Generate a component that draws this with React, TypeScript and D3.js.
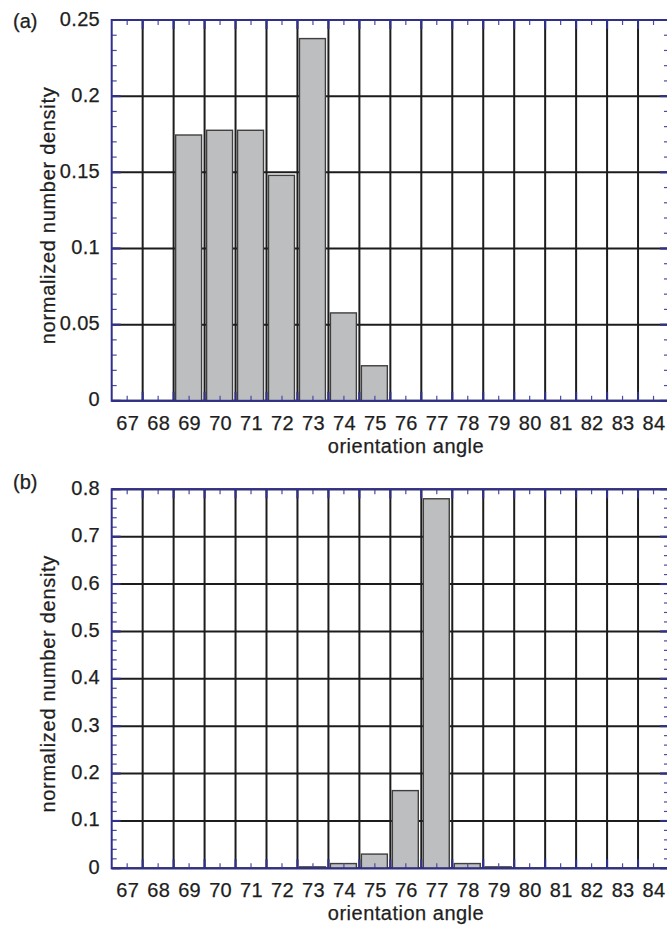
import React from "react";
import * as d3 from "d3";

const angles = [67, 68, 69, 70, 71, 72, 73, 74, 75, 76, 77, 78, 79, 80, 81, 82, 83, 84];
const densityA = [0, 0, 0.1745, 0.1776, 0.1776, 0.148, 0.2378, 0.0577, 0.023, 0, 0, 0, 0, 0, 0, 0, 0, 0];
const densityB = [0, 0, 0, 0, 0, 0, 0.003, 0.01, 0.03, 0.164, 0.78, 0.01, 0.003, 0, 0, 0, 0, 0];
const yTicksA = [0, 0.05, 0.1, 0.15, 0.2, 0.25];
const yTickLabelsA = ["0", "0.05", "0.1", "0.15", "0.2", "0.25"];
const yTicksB = [0, 0.1, 0.2, 0.3, 0.4, 0.5, 0.6, 0.7, 0.8];
const yTickLabelsB = ["0", "0.1", "0.2", "0.3", "0.4", "0.5", "0.6", "0.7", "0.8"];
const panelLabels = ["(a)", "(b)"];
const xTitle = "orientation angle";
const yTitle = "normalized number density";

const FONT = "'Liberation Sans', Arial, Helvetica, sans-serif";
const AXIS = "#2f2f8c";
const TICK = "#4b4ba3";
const GRID = "#1c1c1c";
const TEXT = "#1e1e1e";

type PanelProps = {
  top: number;
  bottom: number;
  yMax: number;
  yTicks: number[];
  yLabels: string[];
  minorStep: number;
  values: number[];
  tag: string;
  tagY: number;
};

function Panel({ top, bottom, yMax, yTicks, yLabels, minorStep, values, tag, tagY }: PanelProps) {
  const left = 111.7;
  const right = 669;
  const x = d3.scaleLinear().domain([66.5, 84.5]).range([left, right]);
  const y = d3.scaleLinear().domain([0, yMax]).range([bottom, top]);
  const step = x(1) - x(0);
  const boundaries = d3.range(67.5, 84.5, 1);
  const nMinor = Math.round(yMax / minorStep);
  const minorY = d3.range(0, nMinor + 1).map((i) => i * minorStep);
  const fs = 20;
  const textStyle = { fontFamily: FONT, fontSize: fs, fill: TEXT, stroke: TEXT, strokeWidth: 0.25 } as const;
  return (
    <g>
      {yTicks.map((t, i) => (
        <line key={"hg" + i} x1={left} x2={right} y1={y(t)} y2={y(t)} stroke={GRID} strokeWidth={2} />
      ))}
      {boundaries.map((b, i) => (
        <line key={"vg" + i} x1={x(b)} x2={x(b)} y1={top} y2={bottom} stroke={GRID} strokeWidth={2} />
      ))}
      {angles.map((a, i) =>
        values[i] > 0 ? (
          <rect
            key={"bar" + i}
            x={x(a - 0.5) + 2}
            y={y(values[i])}
            width={step - 5}
            height={bottom - y(values[i])}
            fill="#bdbec0"
            stroke="#3f3f3f"
            strokeWidth={1.4}
          />
        ) : null
      )}
      {angles.map((a, i) => (
        <g key={"xt" + i}>
          <line x1={x(a)} x2={x(a)} y1={bottom} y2={bottom - 5} stroke={TICK} strokeWidth={1.2} />
          <line x1={x(a)} x2={x(a)} y1={top} y2={top + 5} stroke={TICK} strokeWidth={1.2} />
        </g>
      ))}
      {boundaries.map((b, i) => (
        <g key={"xT" + i}>
          <line x1={x(b)} x2={x(b)} y1={bottom} y2={bottom - 9} stroke={AXIS} strokeWidth={2} />
          <line x1={x(b)} x2={x(b)} y1={top} y2={top + 9} stroke={AXIS} strokeWidth={2} />
        </g>
      ))}
      {minorY.map((t, i) => (
        <g key={"ym" + i}>
          <line x1={left} x2={left + 5} y1={y(t)} y2={y(t)} stroke={TICK} strokeWidth={1.2} />
          <line x1={right} x2={right - 5} y1={y(t)} y2={y(t)} stroke={TICK} strokeWidth={1.2} />
        </g>
      ))}
      {yTicks.map((t, i) => (
        <g key={"yM" + i}>
          <line x1={left} x2={left + 9} y1={y(t)} y2={y(t)} stroke={AXIS} strokeWidth={2} />
          <line x1={right} x2={right - 9} y1={y(t)} y2={y(t)} stroke={AXIS} strokeWidth={2} />
        </g>
      ))}
      <rect x={left} y={top} width={right - left} height={bottom - top} fill="none" stroke={AXIS} strokeWidth={2} />
      {yTicks.map((t, i) => (
        <text key={"yl" + i} x={100} y={y(t) + 5.5} textAnchor="end" style={textStyle} letterSpacing={0.3}>
          {yLabels[i]}
        </text>
      ))}
      {angles.map((a, i) => (
        <text key={"xl" + i} x={x(a) + 0.5} y={bottom + 29} textAnchor="middle" style={textStyle} letterSpacing={0.3}>
          {a}
        </text>
      ))}
      <text x={406} y={bottom + 52} textAnchor="middle" style={textStyle} letterSpacing={0.5}>
        {xTitle}
      </text>
      <text
        transform={`translate(55,${(top + bottom) / 2 + 5}) rotate(-90)`}
        textAnchor="middle"
        style={textStyle}
        letterSpacing={0.7}
      >
        {yTitle}
      </text>
      <text x={13} y={tagY} style={textStyle}>
        {tag}
      </text>
    </g>
  );
}

export default function App() {
  return (
    <svg width={667} height={927} style={{ position: "absolute", left: 0, top: 0, background: "#fff" }}>
      <rect x={0} y={0} width={667} height={927} fill="#fff" />
      <Panel top={20} bottom={400.8} yMax={0.25} yTicks={yTicksA} yLabels={yTickLabelsA} minorStep={0.01} values={densityA} tag={panelLabels[0]} tagY={28} />
      <Panel top={489.3} bottom={868.3} yMax={0.8} yTicks={yTicksB} yLabels={yTickLabelsB} minorStep={0.02} values={densityB} tag={panelLabels[1]} tagY={489} />
    </svg>
  );
}
